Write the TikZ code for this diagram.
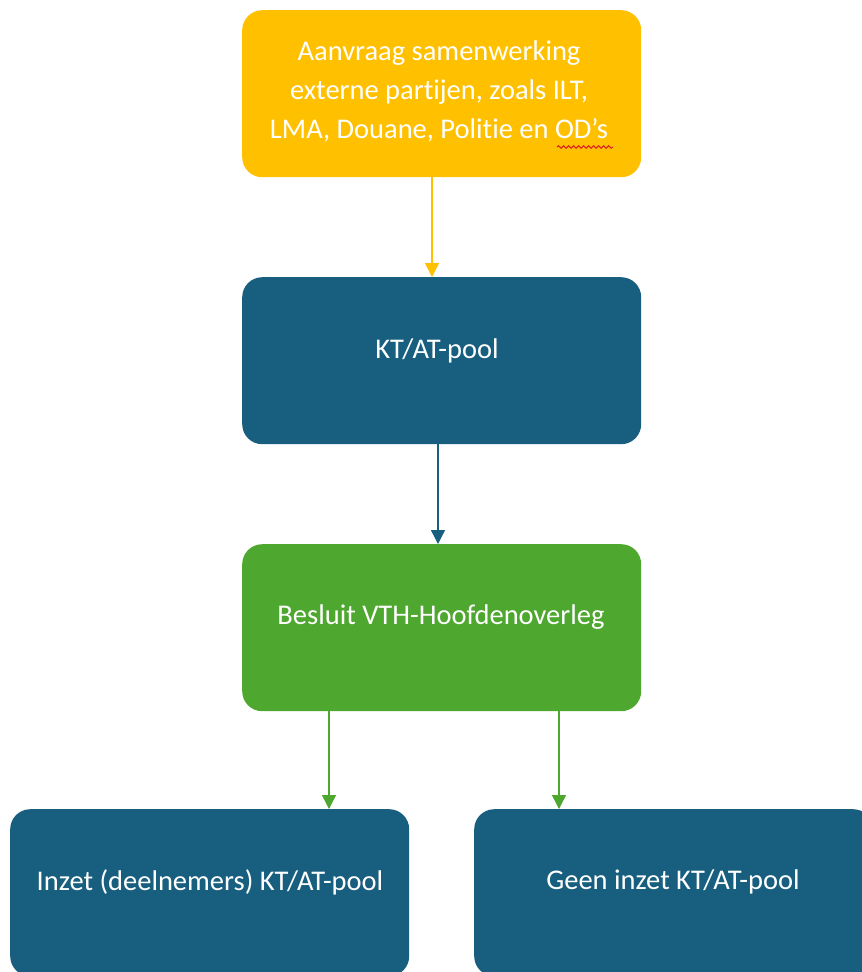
\documentclass[tikz,border=0pt]{standalone}
\usepackage{fontspec}
\setmainfont[Ligatures={NoCommon,NoDiscretionary}]{Carlito}
\usetikzlibrary{arrows.meta,decorations.pathmorphing}
\definecolor{cyellow}{HTML}{FFC000}
\definecolor{cblue}{HTML}{185F7F}
\definecolor{cgreen}{HTML}{4EA72E}
\definecolor{cred}{HTML}{E02020}
\begin{document}
\begin{tikzpicture}[x=1pt,y=-1pt,
  box/.style={rounded corners=20pt,minimum width=399pt,minimum height=167pt,inner sep=0pt,anchor=north west},
  lbl/.style={text=white,font=\fontsize{28.5}{39}\selectfont,align=center},
  arr/.style={line width=1.4pt,-{Triangle[width=14pt,length=14pt]}}]
\useasboundingbox (0,0) rectangle (862,972);
\clip (0,0) rectangle (862,972);
\node[box,fill=cyellow] (a) at (242,10) {};
\node[box,fill=cblue] (b) at (242,277) {};
\node[box,fill=cgreen] (c) at (242,544) {};
\node[box,fill=cblue] (d) at (10,809) {};
\node[box,fill=cblue] (e) at (474,809) {};
\node[lbl] (ta) at (439,91) {Aanvraag samenwerking\\externe partijen, zoals ILT,\\LMA, Douane, Politie en OD’s};
\node[lbl] (tb) at (437,351) {KT/AT-pool};
\node[lbl] (tc) at (441,617) {Besluit VTH-Hoofdenoverleg};
\node[lbl] (td) at (210,882) {Inzet (deelnemers) KT/AT-pool};
\node[lbl] (te) at (673,882) {Geen inzet KT/AT-pool};
\coordinate (w1) at (557,147);
\coordinate (w2) at (613,147);
\draw[cred,line width=1pt,decorate,decoration={snake,amplitude=1.3pt,segment length=5pt}] (w1) -- (w2);
\coordinate (x1) at (432,0);
\coordinate (x2) at (438,0);
\coordinate (x3) at (329,0);
\coordinate (x4) at (559,0);
\draw[arr,cyellow] (a.south -| x1) -- (b.north -| x1);
\draw[arr,cblue] (b.south -| x2) -- (c.north -| x2);
\draw[arr,cgreen] (c.south -| x3) -- (d.north -| x3);
\draw[arr,cgreen] (c.south -| x4) -- (e.north -| x4);
\end{tikzpicture}
\end{document}
